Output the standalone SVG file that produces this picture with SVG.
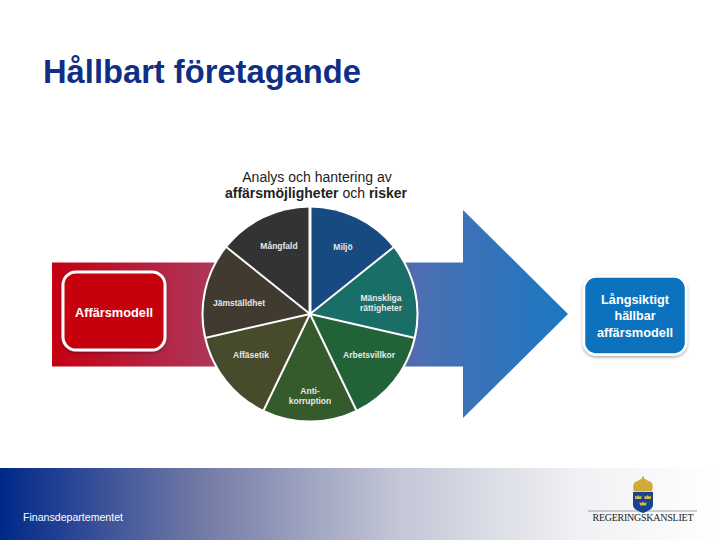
<svg xmlns="http://www.w3.org/2000/svg" width="720" height="540" viewBox="0 0 720 540">
<style>
.s{font-family:"Liberation Sans",Arial,sans-serif}
.lbl{font-family:"Liberation Sans",Arial,sans-serif;font-size:8.5px;font-weight:700;fill:#e8e8e8;text-anchor:middle}
.bx{font-family:"Liberation Sans",Arial,sans-serif;font-weight:700;font-size:13.500px;fill:#fff;text-anchor:middle}
.sl{stroke:#fff;stroke-width:2}
.cr{fill:#d9b84a}
</style>
<defs>
<linearGradient id="arrow" gradientUnits="userSpaceOnUse" x1="52" y1="0" x2="568" y2="0">
<stop offset="0" stop-color="#c40012"/>
<stop offset="0.3" stop-color="#ad3558"/>
<stop offset="0.72" stop-color="#4b6fb3"/>
<stop offset="1" stop-color="#1a78c2"/>
</linearGradient>
<linearGradient id="foot" gradientUnits="userSpaceOnUse" x1="0" y1="0" x2="720" y2="0">
<stop offset="0" stop-color="#00288a"/>
<stop offset="0.28" stop-color="#727aa6"/>
<stop offset="0.55" stop-color="#c3c6d6"/>
<stop offset="0.8" stop-color="#f0f1f4"/>
<stop offset="1" stop-color="#ffffff"/>
</linearGradient>
<filter id="sh" x="-10%" y="-10%" width="120%" height="120%"><feDropShadow dx="0" dy="1.5" stdDeviation="1.5" flood-color="#000" flood-opacity="0.35"/></filter>
<path id="mini" d="M-3 1.500L-3.500 -2L-1.500 -0.800L0 -2.500L1.500 -0.800L3.500 -2L3 1.500Z"/>
</defs>
<rect width="720" height="540" fill="#fff"/>
<text class="s" x="43" y="83" font-size="34" font-weight="700" fill="#0f2f86" textLength="318" lengthAdjust="spacingAndGlyphs">Hållbart företagande</text>
<rect id="footer" x="0" y="468" width="720" height="72" fill="url(#foot)"/>
<text class="s" x="23" y="521" font-size="10.500" fill="#fff" textLength="100" lengthAdjust="spacingAndGlyphs">Finansdepartementet</text>
<g id="arrow-shape"><path d="M52 262.500H463V210L568 314L463 418V366.500H52Z" fill="url(#arrow)"/></g>
<g id="affarsmodell">
<rect x="63" y="272" width="102" height="78" rx="13" fill="#c70008" stroke="#fff" stroke-width="3" filter="url(#sh)"/>
<text class="bx" x="114" y="316.500" textLength="78" lengthAdjust="spacingAndGlyphs">Affärsmodell</text>
</g>
<g id="langsiktigt">
<rect x="584" y="276.500" width="102" height="78" rx="12" fill="#0a72bd" stroke="#fff" stroke-width="2.500" filter="url(#sh)"/>
<text class="bx" x="635" y="304" textLength="68" lengthAdjust="spacingAndGlyphs">Långsiktigt</text>
<text class="bx" x="635" y="320" textLength="41" lengthAdjust="spacingAndGlyphs">hällbar</text>
<text class="bx" x="635" y="337" textLength="76" lengthAdjust="spacingAndGlyphs">affärsmodell</text>
</g>
<g id="pie-heading">
<text class="s" x="317" y="182" font-size="14" fill="#222" text-anchor="middle">Analys och hantering av</text>
<text class="s" x="316" y="198" font-size="14" fill="#222" text-anchor="middle"><tspan font-weight="700">affärsmöjligheter</tspan> och <tspan font-weight="700">risker</tspan></text>
</g>
<circle cx="310" cy="314" r="108.500" fill="#fff"/>
<g id="miljo"><path d="M310 314V207.500A106.500 106.500 0 0 1 393.300 247.600Z" fill="#164a80"/><text class="lbl" x="343" y="250">Miljö</text></g>
<g id="manskliga"><path d="M310 314L393.300 247.600A106.500 106.500 0 0 1 413.800 337.700Z" fill="#1a6e68"/><text class="lbl" x="381" y="301">Mänskliga</text><text class="lbl" x="381" y="311">rättigheter</text></g>
<g id="arbetsvillkor"><path d="M310 314L413.800 337.700A106.500 106.500 0 0 1 356.200 410Z" fill="#226238"/><text class="lbl" x="369" y="358">Arbetsvillkor</text></g>
<g id="antikorruption"><path d="M310 314L356.200 410A106.500 106.500 0 0 1 263.800 410Z" fill="#355a2c"/><text class="lbl" x="310" y="394">Anti-</text><text class="lbl" x="310" y="404">korruption</text></g>
<g id="affarsetik"><path d="M310 314L263.800 410A106.500 106.500 0 0 1 206.200 337.700Z" fill="#484a2c"/><text class="lbl" x="251" y="358">Affäsetik</text></g>
<g id="jamstalldhet"><path d="M310 314L206.200 337.700A106.500 106.500 0 0 1 226.700 247.600Z" fill="#403a30"/><text class="lbl" x="239" y="306">Jämställdhet</text></g>
<g id="mangfald"><path d="M310 314L226.700 247.600A106.500 106.500 0 0 1 310 207.500Z" fill="#333333"/><text class="lbl" x="279" y="249">Mångfald</text></g>
<g id="spokes" class="sl">
<line x1="310" y1="314" x2="310" y2="205" stroke-width="3"/>
<line x1="310" y1="314" x2="394" y2="246.800"/>
<line x1="310" y1="314" x2="415" y2="338"/>
<line x1="310" y1="314" x2="356.700" y2="411"/>
<line x1="310" y1="314" x2="263.300" y2="411"/>
<line x1="310" y1="314" x2="205" y2="338"/>
<line x1="310" y1="314" x2="226" y2="246.800"/>
</g>
<g id="logo">
<line x1="588" y1="511" x2="697" y2="511" stroke="#888" stroke-width="0.800"/>
<path d="M633 492H653V505C653 509 648 511 643 513C638 511 633 509 633 505Z" fill="#17438f"/>
<path d="M634 491.500C632 485 634 481 638 481C639 479.500 641 479 642 478.500V476.500H644V478.500C645 479 647 479.500 648 481C652 481 654 485 652 491.500Z" fill="#d3a93a"/>
<use href="#mini" class="cr" x="638.300" y="497.500"/><use href="#mini" class="cr" x="647.700" y="497.500"/><use href="#mini" class="cr" x="643" y="504"/>
<text x="643" y="521" font-family="'Liberation Serif',serif" font-size="10" fill="#222" text-anchor="middle" textLength="101" lengthAdjust="spacing">REGERINGSKANSLIET</text>
</g>
</svg>
